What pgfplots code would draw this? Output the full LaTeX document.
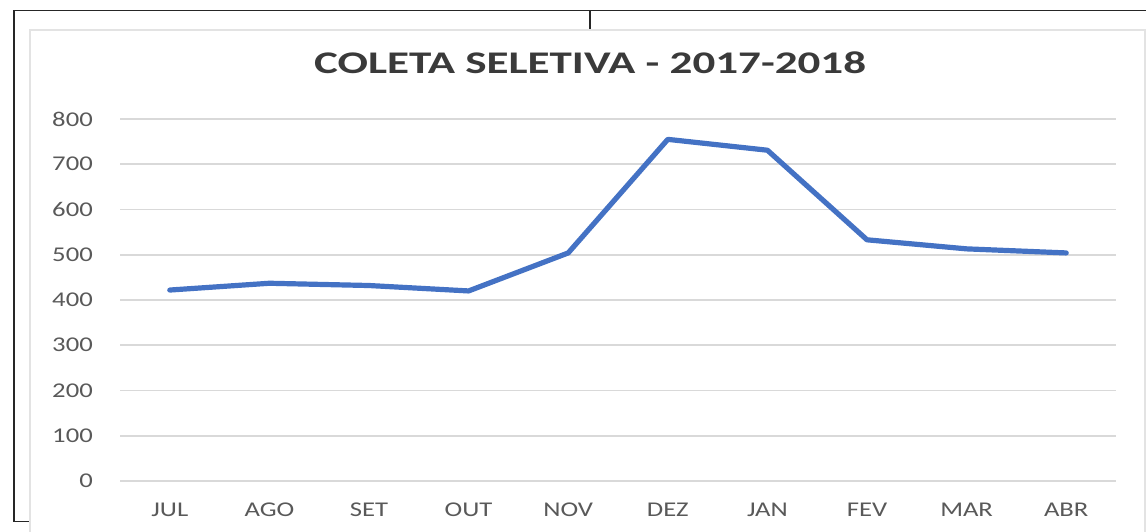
\documentclass[border=0pt]{standalone}
\usepackage{pgfplots}
\pgfplotsset{compat=1.18}
\usepackage{fontspec}
\setmainfont{Carlito}
\definecolor{linecol}{HTML}{4472C4}
\definecolor{gridcol}{HTML}{D9D9D9}
\definecolor{tickcol}{HTML}{595959}
\definecolor{titlecol}{HTML}{3A3A3A}
\definecolor{bordercol}{HTML}{E3E3E3}
\newcommand{\W}[1]{\scalebox{1.27}[1]{#1}}
\newcommand{\T}[1]{\scalebox{1.43}[1]{#1}}
\begin{document}
\begin{tikzpicture}[x=1pt,y=1pt]
\path[use as bounding box] (0pt,0pt) rectangle (1146pt,532pt);
% outer frame of the screenshot
\draw[bordercol, line width=1.8pt] (30pt,-10pt) -- (30pt,502pt) -- (1145pt,502pt) -- (1145pt,-10pt);
\draw[black!85, line width=1.6pt] (13.7pt,10.3pt) -- (13.7pt,521.5pt) -- (1150pt,521.5pt);
\draw[black!85, line width=1.6pt] (13pt,10.3pt) -- (29pt,10.3pt);
\draw[black!85, line width=1.6pt] (590pt,521.5pt) -- (590pt,503pt);
\begin{axis}[
  at={(120pt,51pt)}, anchor=south west,
  scale only axis, width=996pt, height=362pt,
  xmin=-0.5, xmax=9.5, ymin=0, ymax=800,
  xtick={0,...,9},
  xticklabels={\W{JUL},\W{AGO},\W{SET},\W{OUT},\W{NOV},\W{DEZ},\W{JAN},\W{FEV},\W{MAR},\W{ABR}},
  ytick={0,100,...,800},
  yticklabels={\W{0},\W{100},\W{200},\W{300},\W{400},\W{500},\W{600},\W{700},\W{800}},
  axis line style={draw=none},
  major tick length=0pt,
  ymajorgrids, grid style={gridcol, line width=1.6pt},
  tick label style={font=\fontsize{21}{21}\selectfont, text=tickcol, inner sep=0pt},
  xticklabel style={anchor=base, yshift=-35.5pt},
  yticklabel style={anchor=east, xshift=-27pt},
  title={\T{COLETA SELETIVA - 2017-2018}},
  title style={font=\fontsize{31.5}{31.5}\bfseries\selectfont, text=titlecol, inner sep=0pt, anchor=base, at={(0.472,1)}, yshift=39pt},
  clip=false,
]
\addplot[linecol, line width=5.2pt, line join=round, line cap=round] coordinates {
  (0,422) (1,437) (2,432) (3,420) (4,504) (5,755) (6,731) (7,533) (8,513) (9,504)
};
\end{axis}
\end{tikzpicture}
\end{document}
